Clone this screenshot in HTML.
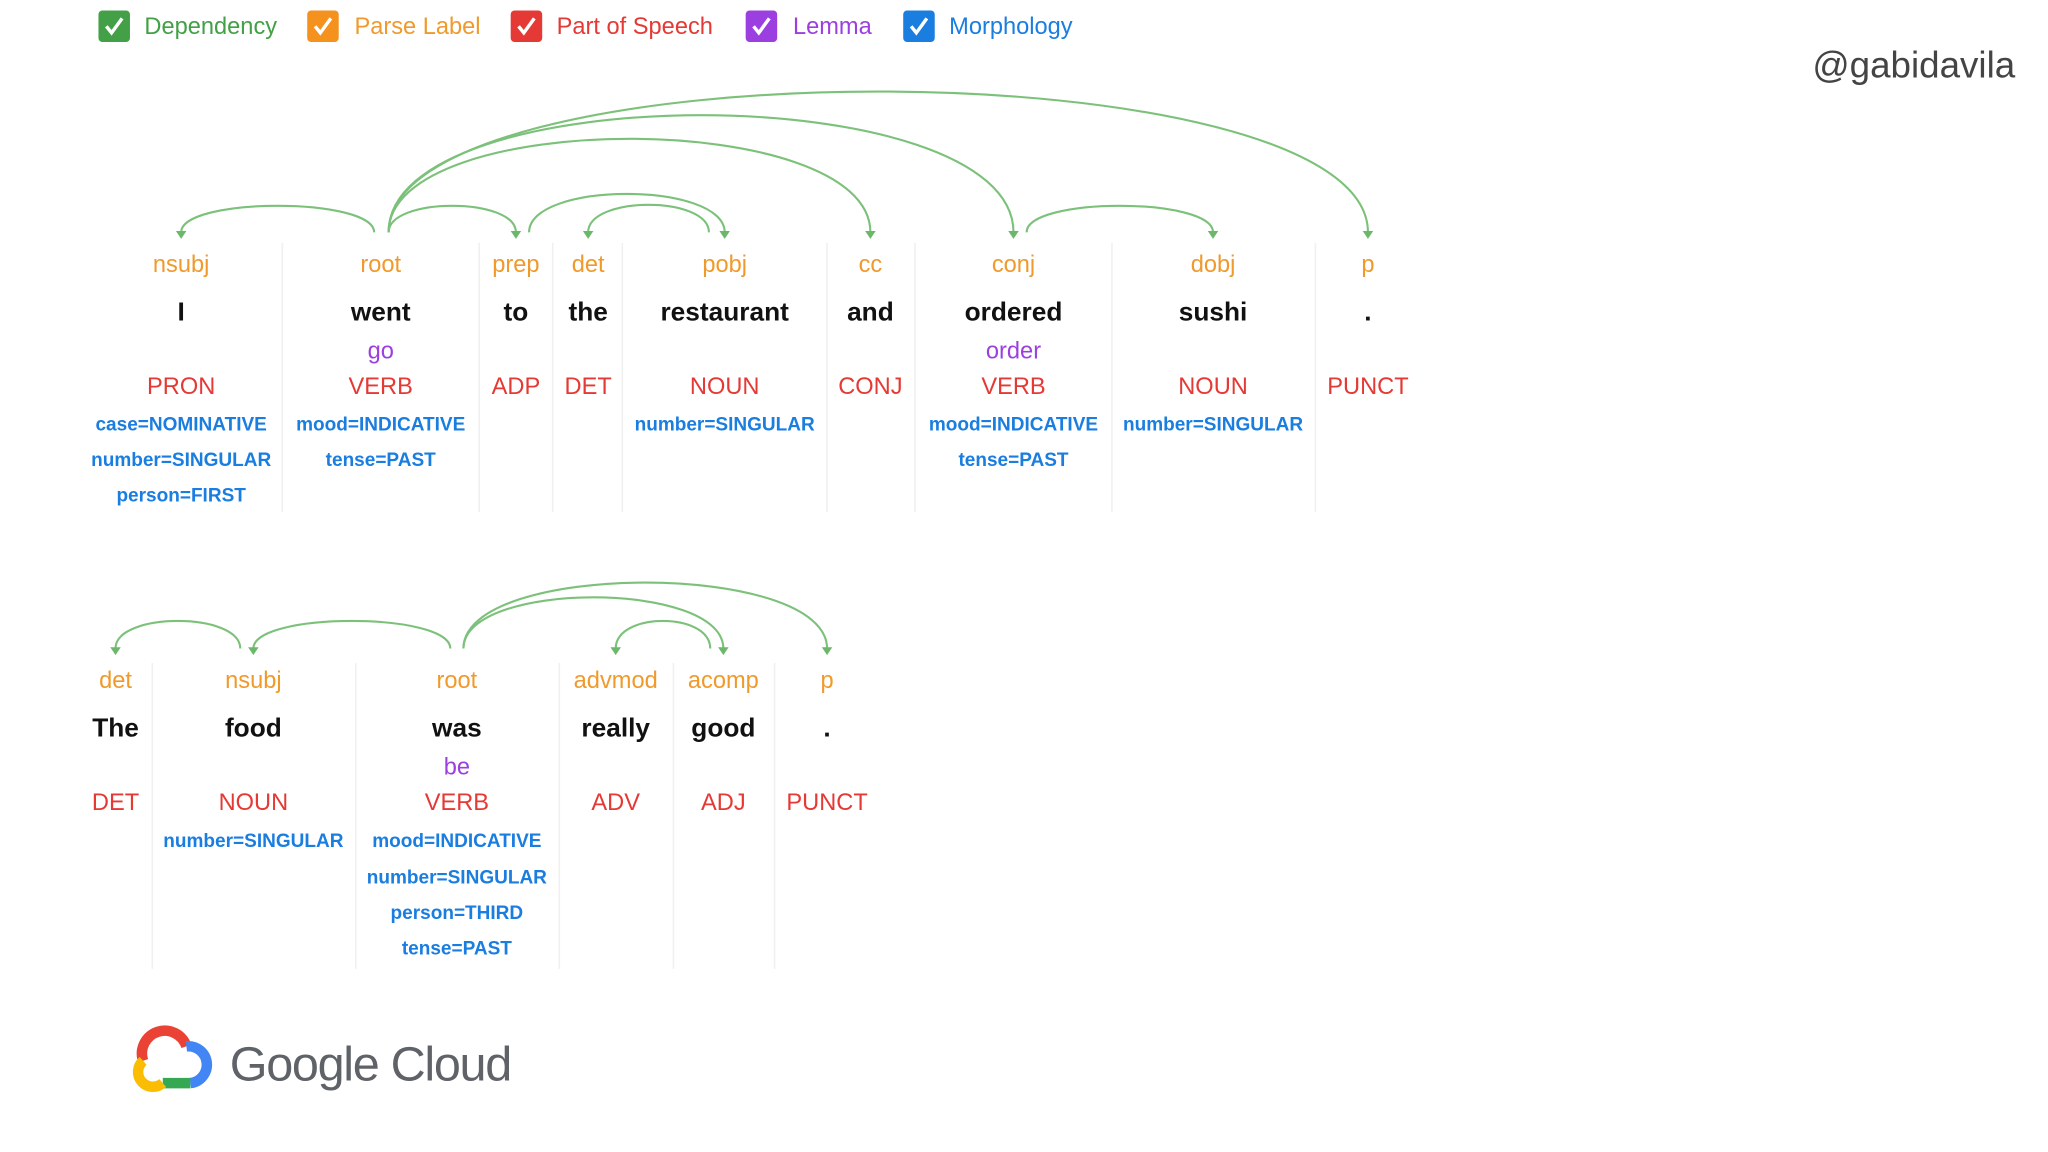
<!DOCTYPE html>
<html><head><meta charset="utf-8"><style>
html,body{margin:0;padding:0;background:#fff;}
svg{display:block;}
text{font-family:"Liberation Sans",Arial,sans-serif;}
.l{fill:#f09a2c;font-size:18px;text-anchor:middle;}
.w{fill:#111;font-size:20px;font-weight:bold;text-anchor:middle;}
.le{fill:#9b3fe0;font-size:18px;text-anchor:middle;}
.p{fill:#e53935;font-size:18px;text-anchor:middle;}
.m{fill:#1a7de0;font-size:14.5px;font-weight:bold;text-anchor:middle;}
.a{fill:none;stroke:#7cc17a;stroke-width:1.6;}
.h{fill:#6bb86a;}
.s{stroke:#f0f0f0;stroke-width:1.2;}
</style></head><body>
<svg width="2048" height="1152" viewBox="0 0 1560 877.5" preserveAspectRatio="none" xmlns="http://www.w3.org/2000/svg">
<g font-size="18">
<rect x="75" y="8" width="24" height="24" rx="3" fill="#43a047"/><path d="M81 20 l4 5 l8 -11" stroke="#fff" stroke-width="2.6" fill="none"/>
<text x="110" y="26" fill="#43a047" style="font-size:18px">Dependency</text>
<rect x="234" y="8" width="24" height="24" rx="3" fill="#f5921e"/><path d="M240 20 l4 5 l8 -11" stroke="#fff" stroke-width="2.6" fill="none"/>
<text x="270" y="26" fill="#f09a2c" style="font-size:18px">Parse Label</text>
<rect x="389" y="8" width="24" height="24" rx="3" fill="#e53935"/><path d="M395 20 l4 5 l8 -11" stroke="#fff" stroke-width="2.6" fill="none"/>
<text x="424" y="26" fill="#e53935" style="font-size:18px">Part of Speech</text>
<rect x="568" y="8" width="24" height="24" rx="3" fill="#9b3fe0"/><path d="M574 20 l4 5 l8 -11" stroke="#fff" stroke-width="2.6" fill="none"/>
<text x="604" y="26" fill="#9b3fe0" style="font-size:18px">Lemma</text>
<rect x="688" y="8" width="24" height="24" rx="3" fill="#1a7de0"/><path d="M694 20 l4 5 l8 -11" stroke="#fff" stroke-width="2.6" fill="none"/>
<text x="723" y="26" fill="#1a7de0" style="font-size:18px">Morphology</text>
</g>
<text x="1535" y="59" fill="#444" style="font-size:28px" text-anchor="end">@gabidavila</text>

<g class="s">
<line x1="215" y1="185" x2="215" y2="390"/><line x1="365" y1="185" x2="365" y2="390"/>
<line x1="421" y1="185" x2="421" y2="390"/><line x1="474" y1="185" x2="474" y2="390"/>
<line x1="630" y1="185" x2="630" y2="390"/><line x1="697" y1="185" x2="697" y2="390"/>
<line x1="847" y1="185" x2="847" y2="390"/><line x1="1002" y1="185" x2="1002" y2="390"/>
</g>
<g class="a">
<path d="M285 177 C285 150 138 150 138 177"/>
<path d="M296 177 C296 150 393 150 393 177"/>
<path d="M403 177 C403 138 552 138 552 177"/>
<path d="M540 177 C540 149 448 149 448 177"/>
<path d="M296 177 C296 82 663 82 663 177"/>
<path d="M296 177 C296 58 772 58 772 177"/>
<path d="M782 177 C782 150 924 150 924 177"/>
<path d="M296 177 C296 34 1042 34 1042 177"/>
</g>
<g class="h">
<path d="M134 176 h8 l-4 6z"/><path d="M389 176 h8 l-4 6z"/><path d="M548 176 h8 l-4 6z"/>
<path d="M444 176 h8 l-4 6z"/><path d="M659 176 h8 l-4 6z"/><path d="M768 176 h8 l-4 6z"/>
<path d="M920 176 h8 l-4 6z"/><path d="M1038 176 h8 l-4 6z"/>
</g>
<g>
<text class="l" x="138" y="207">nsubj</text><text class="l" x="290" y="207">root</text><text class="l" x="393" y="207">prep</text>
<text class="l" x="448" y="207">det</text><text class="l" x="552" y="207">pobj</text><text class="l" x="663" y="207">cc</text>
<text class="l" x="772" y="207">conj</text><text class="l" x="924" y="207">dobj</text><text class="l" x="1042" y="207">p</text>
<text class="w" x="138" y="244">I</text><text class="w" x="290" y="244">went</text><text class="w" x="393" y="244">to</text>
<text class="w" x="448" y="244">the</text><text class="w" x="552" y="244">restaurant</text><text class="w" x="663" y="244">and</text>
<text class="w" x="772" y="244">ordered</text><text class="w" x="924" y="244">sushi</text><text class="w" x="1042" y="244">.</text>
<text class="le" x="290" y="273">go</text><text class="le" x="772" y="273">order</text>
<text class="p" x="138" y="300">PRON</text><text class="p" x="290" y="300">VERB</text><text class="p" x="393" y="300">ADP</text>
<text class="p" x="448" y="300">DET</text><text class="p" x="552" y="300">NOUN</text><text class="p" x="663" y="300">CONJ</text>
<text class="p" x="772" y="300">VERB</text><text class="p" x="924" y="300">NOUN</text><text class="p" x="1042" y="300">PUNCT</text>
<text class="m" x="138" y="328">case=NOMINATIVE</text><text class="m" x="138" y="355">number=SINGULAR</text><text class="m" x="138" y="382">person=FIRST</text>
<text class="m" x="290" y="328">mood=INDICATIVE</text><text class="m" x="290" y="355">tense=PAST</text>
<text class="m" x="552" y="328">number=SINGULAR</text>
<text class="m" x="772" y="328">mood=INDICATIVE</text><text class="m" x="772" y="355">tense=PAST</text>
<text class="m" x="924" y="328">number=SINGULAR</text>
</g>

<g class="s">
<line x1="116" y1="505" x2="116" y2="738"/><line x1="271" y1="505" x2="271" y2="738"/>
<line x1="426" y1="505" x2="426" y2="738"/><line x1="513" y1="505" x2="513" y2="738"/>
<line x1="590" y1="505" x2="590" y2="738"/>
</g>
<g class="a">
<path d="M183 494 C183 466 88 466 88 494"/>
<path d="M343 494 C343 466 193 466 193 494"/>
<path d="M541 494 C541 466 469 466 469 494"/>
<path d="M353 494 C353 442 551 442 551 494"/>
<path d="M353 494 C353 427 630 427 630 494"/>
</g>
<g class="h">
<path d="M84 493 h8 l-4 6z"/><path d="M189 493 h8 l-4 6z"/><path d="M465 493 h8 l-4 6z"/>
<path d="M547 493 h8 l-4 6z"/><path d="M626 493 h8 l-4 6z"/>
</g>
<g>
<text class="l" x="88" y="524">det</text><text class="l" x="193" y="524">nsubj</text><text class="l" x="348" y="524">root</text>
<text class="l" x="469" y="524">advmod</text><text class="l" x="551" y="524">acomp</text><text class="l" x="630" y="524">p</text>
<text class="w" x="88" y="561">The</text><text class="w" x="193" y="561">food</text><text class="w" x="348" y="561">was</text>
<text class="w" x="469" y="561">really</text><text class="w" x="551" y="561">good</text><text class="w" x="630" y="561">.</text>
<text class="le" x="348" y="590">be</text>
<text class="p" x="88" y="617">DET</text><text class="p" x="193" y="617">NOUN</text><text class="p" x="348" y="617">VERB</text>
<text class="p" x="469" y="617">ADV</text><text class="p" x="551" y="617">ADJ</text><text class="p" x="630" y="617">PUNCT</text>
<text class="m" x="193" y="645">number=SINGULAR</text>
<text class="m" x="348" y="645">mood=INDICATIVE</text><text class="m" x="348" y="673">number=SINGULAR</text>
<text class="m" x="348" y="700">person=THIRD</text><text class="m" x="348" y="727">tense=PAST</text>
</g>

<g fill="none" stroke-width="8" stroke-linecap="butt">
<path d="M109 808 A15 15 0 0 1 142 797" stroke="#ea4335"/>
<path d="M142 797 A13 13 0 0 1 145 825" stroke="#4285f4"/>
<path d="M145 825 H124" stroke="#34a853"/>
<path d="M124 825 A11 11 0 0 1 109 808" stroke="#fbbc04"/>
</g>
<text x="175" y="823" fill="#5f6368" style="font-size:37px;letter-spacing:-1px">Google Cloud</text>
</svg>
</body></html>
